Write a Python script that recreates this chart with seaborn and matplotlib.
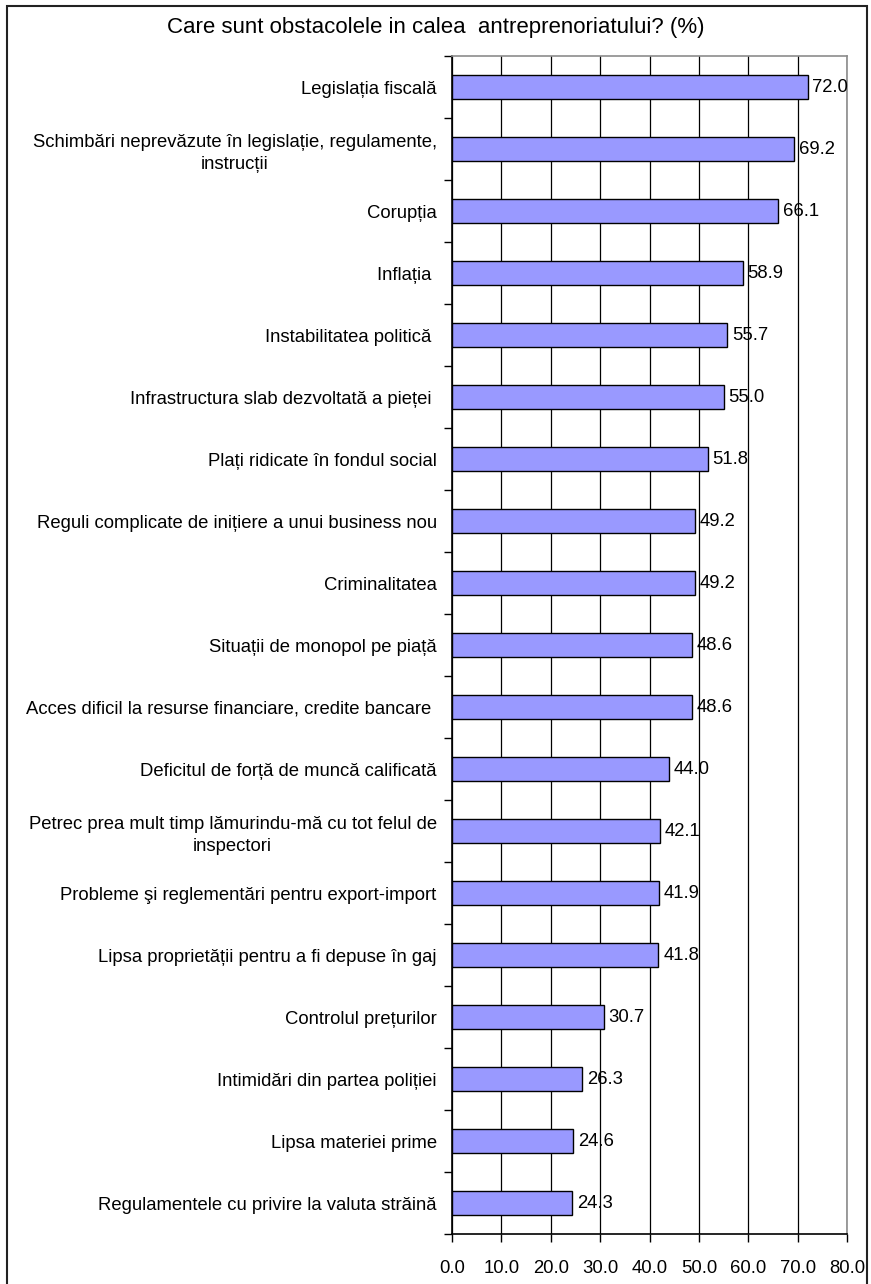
import matplotlib
matplotlib.use("Agg")
import matplotlib.pyplot as plt
import seaborn as sns
import pandas as pd
import numpy as np
from matplotlib.patches import Rectangle

categories = [
    "Legislația fiscală",
    "Schimbări neprevăzute în legislație, regulamente,\ninstrucții",
    "Corupția",
    "Inflația ",
    "Instabilitatea politică ",
    "Infrastructura slab dezvoltată a pieței ",
    "Plați ridicate în fondul social",
    "Reguli complicate de inițiere a unui business nou",
    "Criminalitatea",
    "Situații de monopol pe piață",
    "Acces dificil la resurse financiare, credite bancare ",
    "Deficitul de forță de muncă calificată",
    "Petrec prea mult timp lămurindu-mă cu tot felul de\ninspectori",
    "Probleme şi reglementări pentru export-import",
    "Lipsa proprietății pentru a fi depuse în gaj",
    "Controlul prețurilor",
    "Intimidări din partea poliției",
    "Lipsa materiei prime",
    "Regulamentele cu privire la valuta străină",
]
values = [72.0, 69.2, 66.1, 58.9, 55.7, 55.0, 51.8, 49.2, 49.2, 48.6, 48.6,
          44.0, 42.1, 41.9, 41.8, 30.7, 26.3, 24.6, 24.3]
x_ticks = [0, 10, 20, 30, 40, 50, 60, 70, 80]
title = "Care sunt obstacolele in calea  antreprenoriatului? (%)"

df = pd.DataFrame({"cat": categories, "val": values})

sns.set_theme(style="white")
plt.rcParams['font.family'] = ['Liberation Sans', 'DejaVu Sans']
plt.rcParams['text.color'] = 'black'
plt.rcParams['xtick.color'] = 'black'
plt.rcParams['ytick.color'] = 'black'
plt.rcParams['axes.labelcolor'] = 'black'

FS = 13.3

W, H = 871, 1284
fig = plt.figure(figsize=(W / 100, H / 100), dpi=100)
ax = fig.add_axes([452 / W, 1 - 1234 / H, (847 - 452) / W, (1234 - 56) / H])

sns.barplot(data=df, y="cat", x="val", orient="h", color="#9999FF",
            saturation=1, edgecolor="black", linewidth=1.0, width=0.4, ax=ax)

ax.set_xlim(0, 80)
ax.set_ylim(len(categories) - 0.5, -0.5)
ax.set_xticks(x_ticks)
ax.set_xticklabels([f"{t:.1f}" for t in x_ticks], fontsize=FS)
ax.set_xlabel("")
ax.set_ylabel("")
ax.xaxis.grid(True, color="black", linewidth=0.9)
ax.set_axisbelow(True)

ax.set_yticks(range(len(categories)))
ax.set_yticklabels(categories, fontsize=FS, ha="right", multialignment="center",
                   linespacing=1.4)
ax.set_yticks(np.arange(-0.5, len(categories), 1.0), minor=True)
ax.tick_params(axis="y", which="major", length=0, pad=11)
ax.tick_params(axis="y", which="minor", length=6, width=1.0, color="black", left=True)
ax.tick_params(axis="x", which="major", length=6, width=1.0, color="black",
               bottom=True, pad=13)

for s in ["left", "bottom"]:
    ax.spines[s].set_color("black")
    ax.spines[s].set_linewidth(1.2)
for s in ["top", "right"]:
    ax.spines[s].set_color("#8c8c8c")
    ax.spines[s].set_linewidth(1.2)

for cont in ax.containers:
    ax.bar_label(cont, labels=[f"{v:.1f}" for v in values], padding=3.5,
                 fontsize=FS, color="black")

fig.text(0.5, 1 - 28 / H, title, ha="center", va="center", fontsize=16,
         color="black")

fig.patches.append(Rectangle((7 / W, -0.01), (867 - 7) / W, (1 - 6 / H) + 0.01,
                             transform=fig.transFigure, fill=False,
                             edgecolor="#222222", linewidth=1.5))

fig.savefig("out.png", dpi=100)
